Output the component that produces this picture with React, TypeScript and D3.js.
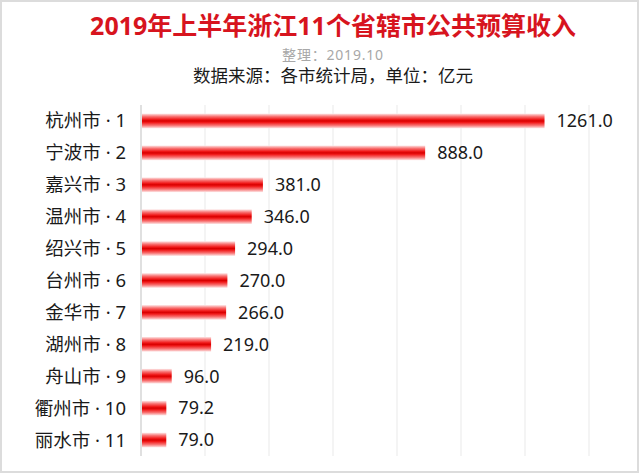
import * as d3 from "d3";
import { useRef, useEffect } from "react";

const cities = [
  "杭州市",
  "宁波市",
  "嘉兴市",
  "温州市",
  "绍兴市",
  "台州市",
  "金华市",
  "湖州市",
  "舟山市",
  "衢州市",
  "丽水市",
];
const values = [1261.0, 888.0, 381.0, 346.0, 294.0, 270.0, 266.0, 219.0, 96.0, 79.2, 79.0];
const gridTicks = [0, 200, 400, 600, 800, 1000, 1200, 1400];

const title = "2019年上半年浙江11个省辖市公共预算收入";
const note = "整理：2019.10";
const source = "数据来源：各市统计局，单位：亿元";

const App = () => {
  const container = useRef<SVGSVGElement | null>(null);

  useEffect(() => {
    createChart();
  });

  const createChart = () => {
    let width = 640;
    let height = 474;
    // latin glyphs from Noto Sans so the middle dot stays narrow
    let font = "'Noto Sans', 'Noto Sans CJK SC', sans-serif";

    let margins = { t: 105, b: 18, l: 141, r: 51 };

    let svg = d3
      .select(container.current)
      .attr("width", width)
      .attr("height", height)
      .style("font-family", font);

    // gradient for the glossy bars
    let defs = svg.selectAll("defs").data([0]).join("defs");
    let grad = defs
      .selectAll("linearGradient")
      .data([0])
      .join("linearGradient")
      .attr("id", "bar-grad")
      .attr("x1", 0)
      .attr("x2", 0)
      .attr("y1", 0)
      .attr("y2", 1);
    grad
      .selectAll("stop")
      .data([
        ["0%", "#fde6e6"],
        ["20%", "#f87070"],
        ["40%", "#f01818"],
        ["50%", "#d80000"],
        ["60%", "#f01818"],
        ["80%", "#f87070"],
        ["100%", "#fde6e6"],
      ])
      .join("stop")
      .attr("offset", (d) => d[0])
      .attr("stop-color", (d) => d[1]);

    svg
      .selectAll(".bg")
      .data([0])
      .join("rect")
      .attr("class", "bg")
      .attr("x", 1)
      .attr("y", 1)
      .attr("width", width - 3)
      .attr("height", height - 3)
      .attr("fill", "#fff")
      .attr("stroke", "#dcdcdc")
      .attr("stroke-width", 2);

    let xScale = d3
      .scaleLinear()
      .domain([0, 1400])
      .range([margins.l, width - margins.r]);

    let yScale = d3
      .scaleBand()
      .domain(cities)
      .range([margins.t, height - margins.b])
      .paddingInner(0.54)
      .paddingOuter(0.27);

    // gridlines
    svg
      .selectAll(".grid")
      .data(gridTicks)
      .join("line")
      .attr("class", "grid")
      .attr("x1", (d) => xScale(d))
      .attr("x2", (d) => xScale(d))
      .attr("y1", margins.t)
      .attr("y2", height - margins.b)
      .attr("stroke", (d) => (d === 0 ? "#cfcfcf" : "#efefef"))
      .attr("stroke-width", 1.3);

    // bars
    svg
      .selectAll(".bar")
      .data(values)
      .join("rect")
      .attr("class", "bar")
      .attr("x", xScale(0) + 1)
      .attr("y", (d, i) => yScale(cities[i]))
      .attr("width", (d) => xScale(d) - xScale(0) - 1)
      .attr("height", yScale.bandwidth())
      .attr("fill", "url(#bar-grad)");

    // value labels
    svg
      .selectAll(".val")
      .data(values)
      .join("text")
      .attr("class", "val")
      .attr("x", (d) => xScale(d) + 12)
      .attr("y", (d, i) => yScale(cities[i]) + yScale.bandwidth() / 2)
      .attr("dy", "0.35em")
      .attr("font-size", 18)
      .attr("fill", "#1a1a1a")
      .text((d) => d.toFixed(1));

    // category labels
    svg
      .selectAll(".cat")
      .data(cities)
      .join("text")
      .attr("class", "cat")
      .attr("x", 126)
      .attr("y", (d) => yScale(d) + yScale.bandwidth() / 2)
      .attr("dy", "0.35em")
      .attr("text-anchor", "end")
      .attr("font-size", 18.5)
      .attr("fill", "#1a1a1a")
      .text((d, i) => `${d} · ${i + 1}`);

    // titles
    svg
      .selectAll(".title")
      .data([title])
      .join("text")
      .attr("class", "title")
      .attr("x", 333)
      .attr("y", 35)
      .attr("text-anchor", "middle")
      .attr("font-size", 25)
      .attr("font-weight", 700)
      .attr("fill", "#d7141e")
      .text((d) => d);

    svg
      .selectAll(".note")
      .data([note])
      .join("text")
      .attr("class", "note")
      .attr("x", 333)
      .attr("y", 60)
      .attr("text-anchor", "middle")
      .attr("font-size", 14)
      .attr("letter-spacing", 0.8)
      .attr("fill", "#a8a8a8")
      .text((d) => d);

    svg
      .selectAll(".source")
      .data([source])
      .join("text")
      .attr("class", "source")
      .attr("x", 333)
      .attr("y", 82)
      .attr("text-anchor", "middle")
      .attr("font-size", 17.5)
      .attr("fill", "#1a1a1a")
      .text((d) => d);
  };

  return (
    <div style={{ position: "absolute", left: 0, top: 0 }}>
      <svg ref={container} style={{ display: "block" }}></svg>
    </div>
  );
};

export default App;
